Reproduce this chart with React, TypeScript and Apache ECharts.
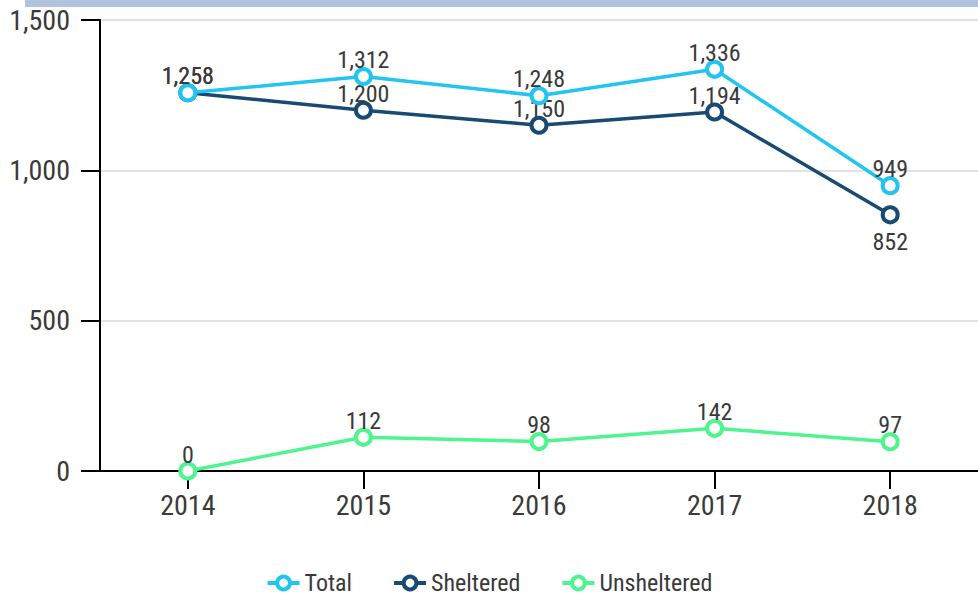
import React, { useEffect, useRef } from "react";
import * as echarts from "echarts";

const years = ["2014", "2015", "2016", "2017", "2018"];
const totalValues = [1258, 1312, 1248, 1336, 949];
const shelteredValues = [1258, 1200, 1150, 1194, 852];
const unshelteredValues = [0, 112, 98, 142, 97];
const seriesNames = ["Total", "Sheltered", "Unsheltered"];
const seriesColors = ["#22c4f0", "#184a73", "#4ef58e"];

const FONT = "'Roboto Condensed', Roboto, sans-serif";
const TEXT = "#3a3a3a";

const fmt = (v: number) => v.toLocaleString("en-US");

export default function App() {
  const ref = useRef<HTMLDivElement>(null);
  useEffect(() => {
    if (!ref.current) return;
    const chart = echarts.init(ref.current, undefined, { renderer: "svg" });
    const mk = (name: string, data: number[], color: string, idx: number) => ({
      name,
      type: "line",
      color,
      data: data.map((v, i) => {
        if (idx === 1 && i === 4) {
          return { value: v, label: { position: "bottom", distance: 6 } };
        }
        return v;
      }),
      symbol: "circle",
      symbolSize: 15,
      lineStyle: { width: 3.5, color },
      itemStyle: { color: "#ffffff", borderWidth: 4, borderColor: color },
      label: {
        show: true,
        position: "top",
        distance: -5,
        fontFamily: FONT,
        fontSize: 24,
        color: TEXT,
        formatter: (p: any) => fmt(p.value),
      },
      z: 3 - idx,
    });
    chart.setOption({
      animation: false,
      textStyle: { fontFamily: FONT },
      grid: { left: 100, right: 0, top: 20, bottom: 125, containLabel: false },
      graphic: [
        {
          type: "rect",
          shape: { x: 25, y: 0, width: 953, height: 7 },
          style: { fill: "#b0c4de" },
          silent: true,
        },
      ],
      legend: {
        data: seriesNames,
        bottom: 1,
        padding: 0,
        left: "center",
        itemWidth: 32,
        itemHeight: 16,
        itemGap: 40,
        itemStyle: { borderWidth: 4 },
        lineStyle: { width: 4 },
        textStyle: { fontFamily: FONT, fontSize: 24, color: TEXT, lineHeight: 18 },
      },
      xAxis: {
        type: "category",
        data: years,
        boundaryGap: true,
        axisLine: { lineStyle: { color: "#000", width: 2 } },
        axisTick: { show: true, alignWithLabel: true, length: 18, lineStyle: { color: "#000", width: 2 } },
        axisLabel: { fontFamily: FONT, fontSize: 28, color: TEXT, margin: 20 },
      },
      yAxis: {
        type: "value",
        min: 0,
        max: 1500,
        interval: 500,
        axisLine: { show: true, lineStyle: { color: "#000", width: 2 } },
        axisTick: { show: true, length: 19, lineStyle: { color: "#000", width: 2 } },
        axisLabel: {
          fontFamily: FONT,
          fontSize: 28,
          color: TEXT,
          margin: 30,
          formatter: (v: number) => fmt(v),
        },
        splitLine: { lineStyle: { color: "#e2e2e2", width: 2 } },
      },
      series: [
        mk(seriesNames[0], totalValues, seriesColors[0], 0),
        mk(seriesNames[1], shelteredValues, seriesColors[1], 1),
        mk(seriesNames[2], unshelteredValues, seriesColors[2], 2),
      ],
    });
    return () => chart.dispose();
  }, []);
  return (
    <div
      ref={ref}
      style={{ position: "fixed", left: 0, top: 0, width: 978, height: 596, background: "#fff" }}
    />
  );
}
